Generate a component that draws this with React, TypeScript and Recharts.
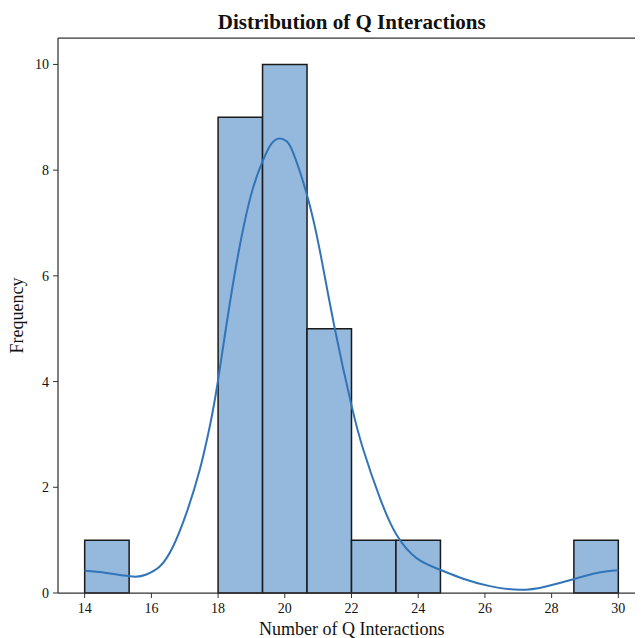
import React from "react";
import {
  ComposedChart,
  Line,
  XAxis,
  YAxis,
  ReferenceArea,
  ReferenceLine,
  Customized,
} from "recharts";

// Histogram bins (left edge, right edge, count)
const binLefts = [14, 15.333, 16.667, 18, 19.333, 20.667, 22, 23.333, 24.667, 26, 27.333, 28.667];
const binRights = [15.333, 16.667, 18, 19.333, 20.667, 22, 23.333, 24.667, 26, 27.333, 28.667, 30];
const binCounts = [1, 0, 0, 9, 10, 5, 1, 1, 0, 0, 0, 1];

// KDE curve (scaled to counts)
const kdeX = [14.0, 14.65, 15.45, 15.85, 16.25, 16.65, 17.05, 17.45, 17.75, 18.0, 18.45, 18.95, 19.33, 19.6, 19.85, 20.05, 20.25, 20.67, 21.05, 21.5, 22.0, 22.35, 22.85, 23.35, 23.95, 24.65, 25.35, 26.15, 27.05, 27.8, 28.65, 29.35, 30.0];
const kdeY = [0.42, 0.38, 0.31, 0.35, 0.5, 0.88, 1.51, 2.33, 3.15, 4.03, 5.86, 7.44, 8.16, 8.5, 8.6, 8.55, 8.33, 7.52, 6.48, 5.0, 3.55, 2.72, 1.8, 1.1, 0.66, 0.44, 0.27, 0.13, 0.06, 0.12, 0.26, 0.38, 0.43];

const xTicks = [14, 16, 18, 20, 22, 24, 26, 28, 30];
const yTicks = [0, 2, 4, 6, 8, 10];

const title = "Distribution of Q Interactions";
const xLabel = "Number of Q Interactions";
const yLabel = "Frequency";

const kdeData = kdeX.map((x, i) => ({ x, kde: kdeY[i] }));

const FONT = "'Liberation Serif', 'DejaVu Serif', serif";
const SPINE = "#333333";

const Texts = () => (
  <g>
    <text x={343.7} y={21} textAnchor="middle" fontFamily={FONT} fontWeight="bold" fontSize={21} fill="#111">
      {title}
    </text>
    <text x={343.7} y={627} textAnchor="middle" fontFamily={FONT} fontSize={18} fill="#111">
      {xLabel}
    </text>
    <text
      x={0}
      y={0}
      transform={`translate(15, 307.6) rotate(-90)`}
      textAnchor="middle"
      fontFamily={FONT}
      fontSize={18}
      fill="#111"
    >
      {yLabel}
    </text>
  </g>
);

export default function App() {
  return (
    <div style={{ width: 635, height: 630, overflow: "hidden" }}>
      <ComposedChart
        width={640}
        height={630}
        data={kdeData}
        margin={{ top: 30, right: 3, bottom: 15, left: 0 }}
      >
        <XAxis
          dataKey="x"
          type="number"
          domain={[13.2, 30.8]}
          ticks={xTicks}
          allowDataOverflow
          height={30}
          tickSize={5}
          tickMargin={5}
          stroke={SPINE}
          tick={{ fontFamily: FONT, fontSize: 14, fill: "#111" }}
          tickLine={{ stroke: SPINE }}
          axisLine={{ stroke: SPINE, strokeWidth: 1.25 }}
        />
        <YAxis
          type="number"
          domain={[0, 10.5]}
          ticks={yTicks}
          allowDataOverflow
          width={50}
          tickSize={5}
          tickMargin={4}
          stroke={SPINE}
          tick={{ fontFamily: FONT, fontSize: 14, fill: "#111" }}
          tickLine={{ stroke: SPINE }}
          axisLine={{ stroke: SPINE, strokeWidth: 1.25 }}
        />
        <ReferenceLine y={10.5} stroke={SPINE} strokeWidth={1.25} ifOverflow="extendDomain" />
        {binCounts.map((c, i) =>
          c > 0 ? (
            <ReferenceArea
              key={i}
              x1={binLefts[i]}
              x2={binRights[i]}
              y1={0}
              y2={c}
              fill="#95b9dc"
              fillOpacity={1}
              stroke="#1a1a1a"
              strokeWidth={1.5}
              strokeOpacity={1}
            />
          ) : null
        )}
        <Line
          type="natural"
          dataKey="kde"
          stroke="#3274b8"
          strokeWidth={2}
          dot={false}
          activeDot={false}
          isAnimationActive={false}
        />
        <Customized component={Texts} />
      </ComposedChart>
    </div>
  );
}
